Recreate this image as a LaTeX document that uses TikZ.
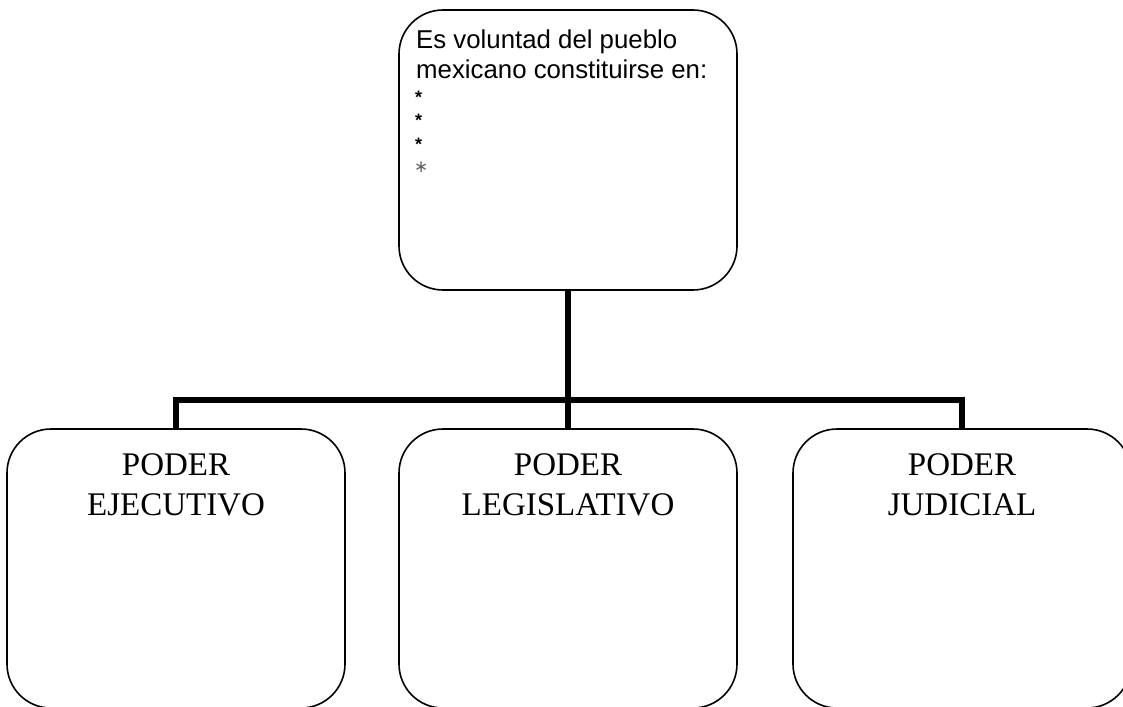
\documentclass[tikz,border=0pt]{standalone}
\usepackage{fontspec}
\newfontfamily\arialf{Liberation Sans}
\newfontfamily\timesf{Liberation Serif}
\newfontfamily\dejavu{DejaVu Sans}
\begin{document}
\begin{tikzpicture}[x=1pt,y=-1pt,
  box/.style={draw=black, line width=1.6pt, rounded corners=44pt, minimum width=338pt, minimum height=279pt, inner sep=0pt},
  conn/.style={draw=black, line width=5.5pt, line join=miter},
  head/.style={anchor=base west, inner sep=0pt, font=\arialf\fontsize{25.8}{30}\selectfont},
  star/.style={anchor=base west, inner sep=0pt, font=\arialf\bfseries\fontsize{18}{23}\selectfont},
  poder/.style={anchor=base, inner sep=0pt, font=\timesf\fontsize{33}{38}\selectfont}]
\useasboundingbox (0,0) rectangle (1123,706);
\clip (0,0) rectangle (1123,706);
% boxes
\node[box, minimum height=280pt] (top) at (568,150) {};
\node[box] (ejec) at (176,568.5) {};
\node[box] (legis) at (568,568.5) {};
\node[box] (judi) at (962,568.5) {};
% connectors
\coordinate (bar) at (568,400);
\draw[conn] (top.south) -- (top.south |- bar);
\draw[conn] (ejec.north) -- (ejec.north |- bar) -- (judi.north |- bar) -- (judi.north);
\draw[conn] (legis.north) -- (legis.north |- bar);
% top text
\node[head] (h1) at (416,48.5) {Es voluntad del pueblo};
\node[head] (h2) at (416,78.5) {mexicano constituirse en:};
\node[star] (s1) at (415,103) {*};
\node[star] (s2) at (415,126.5) {*};
\node[star] (s3) at (415,150) {*};
\node[anchor=base west, inner sep=0pt, text=black!60, font=\dejavu\fontsize{17}{20}\selectfont] (s4) at (414,172) {∗};
% bottom texts
\node[poder] (p1) at (176,475) {PODER};
\node[poder] (p1b) at (176,515) {EJECUTIVO};
\node[poder] (p2) at (568,475) {PODER};
\node[poder] (p2b) at (568,515) {LEGISLATIVO};
\node[poder] (p3) at (962,475) {PODER};
\node[poder] (p3b) at (962,515) {JUDICIAL};
\end{tikzpicture}
\end{document}
